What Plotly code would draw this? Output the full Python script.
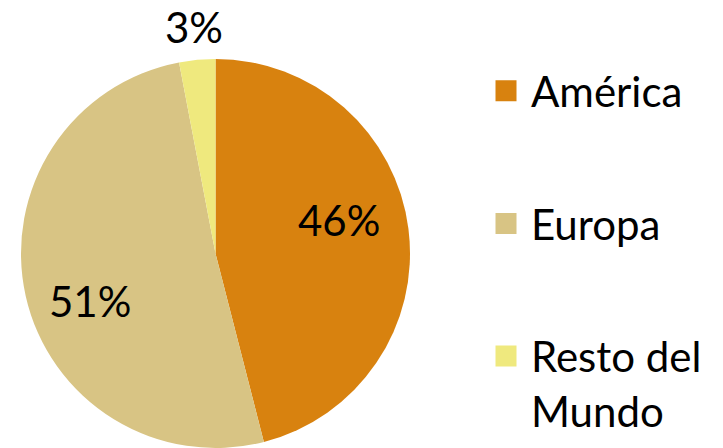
import math
import plotly.graph_objects as go

labels = ["América", "Europa", "Resto del Mundo"]
legend_labels = ["América", "Europa", "Resto del<br>Mundo"]
values = [46, 51, 3]
colors = ["#D8820F", "#D8C484", "#EFE97E"]

W, H = 723, 448
FONT = "Lato"
FS = 42
OFF = 8  # page body margin

# pie geometry (pixels in figure coordinates)
CX, CY, R = 215.5 - OFF, 253.5 - OFF, 194.5

fig = go.Figure()
fig.add_trace(go.Pie(
    labels=labels, values=values, sort=False, direction="clockwise", rotation=0,
    marker=dict(colors=colors, line=dict(width=0)),
    textinfo="none", textposition="none",
    showlegend=False, hoverinfo="label+percent",
    domain=dict(x=[(CX - R) / W, (CX + R) / W], y=[(H - CY - R) / H, (H - CY + R) / H]),
))
for lab, col in zip(legend_labels, colors):
    fig.add_trace(go.Scatter(
        x=[None], y=[None], mode="markers", name=lab, legendgroup=lab,
        marker=dict(symbol="square", size=25, color=col, line=dict(width=5, color=col)),
    ))

# percentage labels placed along each slice's angle
total = sum(values)
cum = 0
label_r = [0.66, 0.69, 1.17]
label_shift = [-8, -8, 0]
for v, lr, sh in zip(values, label_r, label_shift):
    mid = (cum + v / 2) / total * 360 + sh
    cum += v
    a = math.radians(mid)
    px = CX + lr * R * math.sin(a)
    py = CY - lr * R * math.cos(a)
    fig.add_annotation(
        x=px / W, y=1 - py / H, xref="paper", yref="paper",
        text=f"{round(v / total * 100)}%", showarrow=False,
        font=dict(family=FONT, size=FS, color="black"),
        xanchor="center", yanchor="middle",
    )

fig.update_layout(
    width=W, height=H, margin=dict(l=0, r=0, t=0, b=0),
    paper_bgcolor="white", plot_bgcolor="white",
    xaxis=dict(visible=False), yaxis=dict(visible=False),
    font=dict(family=FONT, size=FS, color="black"),
    legend=dict(x=(481 - OFF) / W, xanchor="left", y=1 - 49 / H, yanchor="top",
                tracegroupgap=75, valign="top", itemsizing="trace", itemwidth=40,
                font=dict(family=FONT, size=FS, color="black")),
)
fig.write_html("out.html")
